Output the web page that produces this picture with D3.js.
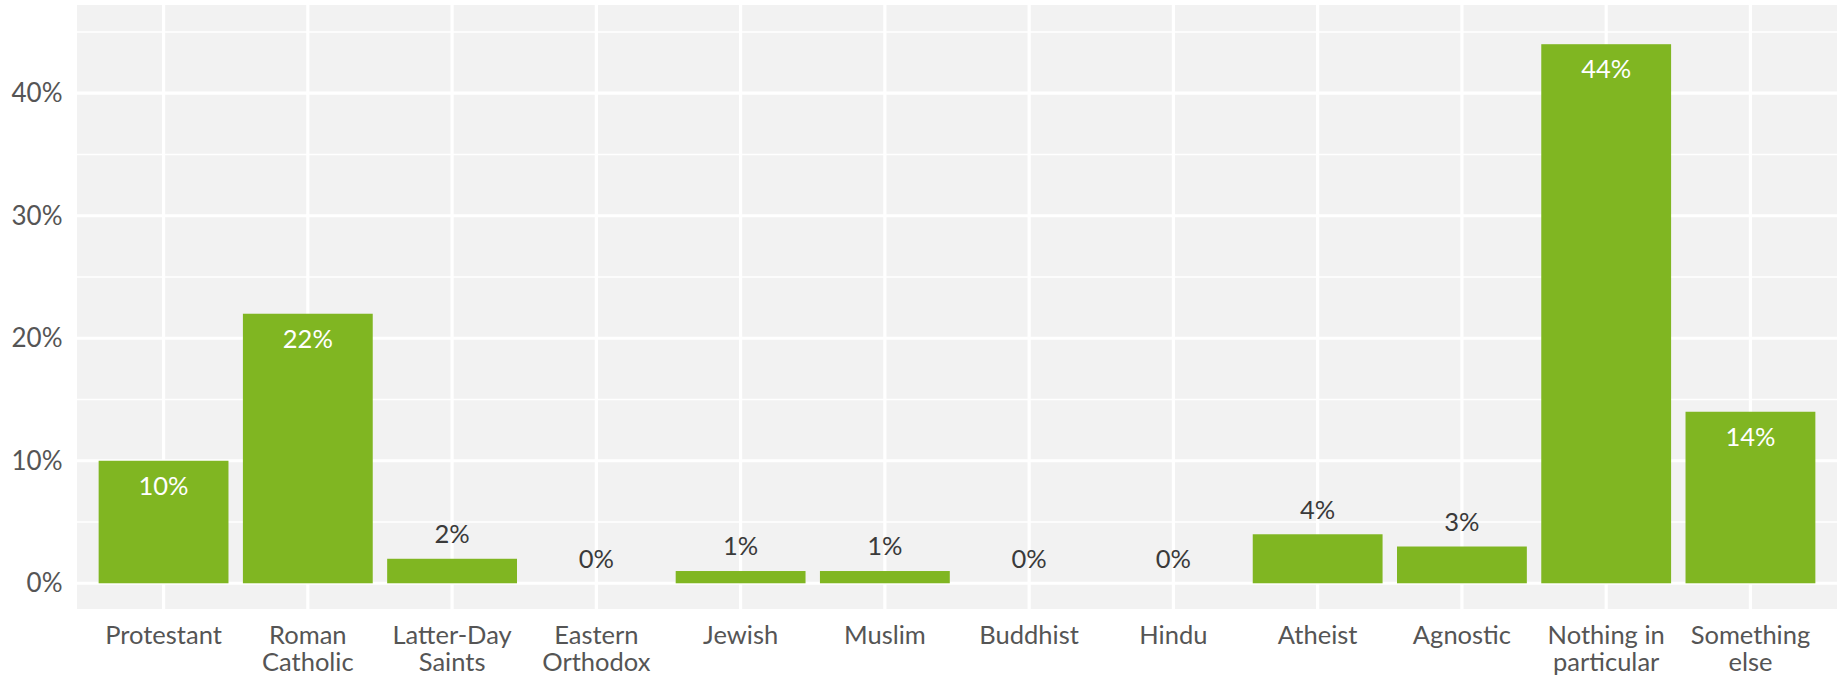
<!DOCTYPE html>
<html>
<head>
<meta charset="utf-8">
<script src="https://cdn.jsdelivr.net/npm/d3@7"></script>
<style>
  html, body { margin: 0; padding: 0; background: #ffffff; }
  svg { display: block; font-family: Lato, "Open Sans", sans-serif; }
</style>
</head>
<body>
<svg id="chart" width="1843" height="678"></svg>
<script>
const categories = [
  ["Protestant"], ["Roman", "Catholic"], ["Latter-Day", "Saints"], ["Eastern", "Orthodox"],
  ["Jewish"], ["Muslim"], ["Buddhist"], ["Hindu"], ["Atheist"], ["Agnostic"],
  ["Nothing in", "particular"], ["Something", "else"]
];
const values = [10, 22, 2, 0, 1, 1, 0, 0, 4, 3, 44, 14];
const yTicks = [0, 10, 20, 30, 40];
const yMinorTicks = [5, 15, 25, 35, 45];

const W = 1843, H = 678;
const panel = { left: 77, right: 1837, top: 5, bottom: 609 };
const svg = d3.select("#chart");
const keys = categories.map(c => c.join(" "));

const x = d3.scaleBand().domain(keys).range([panel.left, panel.right])
  .paddingInner(0.1).paddingOuter(0.15);
const y = d3.scaleLinear().domain([-2.1, 47.2]).range([panel.bottom, panel.top]);

// panel background
svg.append("rect")
  .attr("x", panel.left).attr("y", panel.top)
  .attr("width", panel.right - panel.left).attr("height", panel.bottom - panel.top)
  .attr("fill", "#f2f2f2");

// minor gridlines
svg.append("g").selectAll("line").data(yMinorTicks).join("line")
  .attr("x1", panel.left).attr("x2", panel.right)
  .attr("y1", d => y(d)).attr("y2", d => y(d))
  .attr("stroke", "#ffffff").attr("stroke-width", 1.6);

// major gridlines
svg.append("g").selectAll("line").data(yTicks).join("line")
  .attr("x1", panel.left).attr("x2", panel.right)
  .attr("y1", d => y(d)).attr("y2", d => y(d))
  .attr("stroke", "#ffffff").attr("stroke-width", 3.2);

svg.append("g").selectAll("line").data(keys).join("line")
  .attr("x1", d => x(d) + x.bandwidth() / 2).attr("x2", d => x(d) + x.bandwidth() / 2)
  .attr("y1", panel.top).attr("y2", panel.bottom)
  .attr("stroke", "#ffffff").attr("stroke-width", 3.2);

// bars
svg.append("g").selectAll("rect").data(values).join("rect")
  .attr("x", (d, i) => x(keys[i]))
  .attr("width", x.bandwidth())
  .attr("y", d => y(d))
  .attr("height", d => y(0) - y(d))
  .attr("fill", "#80b622");

// value labels
svg.append("g").selectAll("text").data(values).join("text")
  .attr("x", (d, i) => x(keys[i]) + x.bandwidth() / 2)
  .attr("y", d => d >= 10 ? y(d) + 25 : y(d) - 24.5)
  .attr("dy", "0.35em")
  .attr("text-anchor", "middle")
  .attr("font-size", 25.5)
  .attr("fill", d => d >= 10 ? "#ffffff" : "#3a3a3a")
  .text(d => d + "%");

// y axis labels
const yAxis = d3.axisLeft(y).tickValues(yTicks).tickFormat(d => d + "%").tickSize(0).tickPadding(14.5);
const gy = svg.append("g").attr("transform", `translate(${panel.left},0)`).call(yAxis);
gy.select(".domain").remove();
gy.selectAll("text").attr("font-size", 26).attr("fill", "#555555").attr("font-family", "Lato");

// x axis labels
const xAxis = d3.axisBottom(x).tickSize(0).tickFormat("");
const gx = svg.append("g").attr("transform", `translate(0,${panel.bottom})`).call(xAxis);
gx.select(".domain").remove();
gx.selectAll(".tick").each(function(d, i) {
  const t = d3.select(this).append("text")
    .attr("text-anchor", "middle")
    .attr("font-size", 25.5)
    .attr("font-family", "Lato")
    .attr("fill", "#555555");
  categories[i].forEach((line, j) => {
    t.append("tspan").attr("x", 0).attr("y", 26 + j * 27).attr("dy", "0.35em").text(line);
  });
});
</script>
</body>
</html>
